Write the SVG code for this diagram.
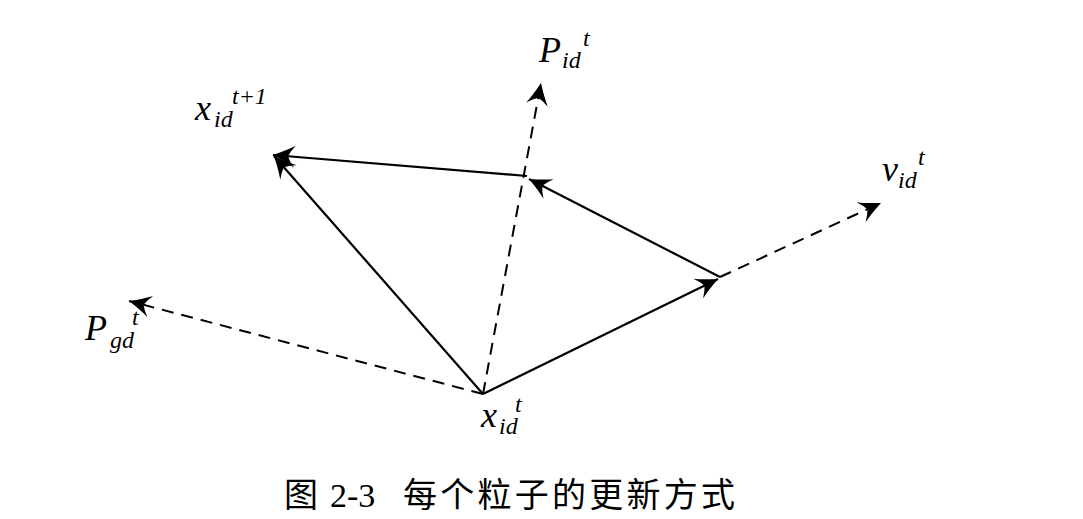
<svg xmlns="http://www.w3.org/2000/svg" width="1083" height="519" viewBox="0 0 1083 519">
<style>
.s{stroke:#000;stroke-width:2.2;fill:none}
.d{stroke:#000;stroke-width:2;fill:none;stroke-dasharray:12 8}
.big{font-size:36px}
.sm{font-size:24px}
</style>
<defs>
<marker id="ah" markerUnits="userSpaceOnUse" markerWidth="30" markerHeight="30" refX="22" refY="11" orient="auto" viewBox="0 0 30 22">
<path d="M22,11 Q8,5 0,0 Q5,6 7,11 Q5,16 0,22 Q8,17 22,11 Z" fill="#000"/>
</marker>
</defs>
<rect width="1083" height="519" fill="#fff"/>
<g id="connectors">
<line class="d" x1="483" y1="394" x2="541" y2="83" marker-end="url(#ah)"/>
<line class="d" x1="483" y1="394" x2="129" y2="301" marker-end="url(#ah)"/>
<line class="d" x1="720" y1="277" x2="881" y2="203" marker-end="url(#ah)"/>
<line class="s" x1="483" y1="394" x2="718" y2="279" marker-end="url(#ah)"/>
<line class="s" x1="720" y1="277" x2="529" y2="179" marker-end="url(#ah)"/>
<line class="s" x1="527" y1="176" x2="273" y2="155" marker-end="url(#ah)"/>
<line class="s" x1="483" y1="394" x2="274" y2="156" marker-end="url(#ah)"/>
</g>
<g font-family="Liberation Serif, DejaVu Serif, serif" font-style="italic" fill="#000">
<g id="x_next">
<text class="big" x="195" y="120">x</text>
<text class="sm" x="214" y="127">id</text>
<text class="sm" x="232" y="104">t+1</text>
</g>
<g id="P_id">
<text class="big" x="539" y="62">P</text>
<text class="sm" x="562" y="68">id</text>
<text class="sm" x="583" y="46">t</text>
</g>
<g id="v_id">
<text class="big" x="882" y="181">v</text>
<text class="sm" x="898" y="188">id</text>
<text class="sm" x="918" y="165">t</text>
</g>
<g id="P_gd">
<text class="big" x="85" y="340">P</text>
<text class="sm" x="110" y="348">gd</text>
<text class="sm" x="132" y="325">t</text>
</g>
<g id="x_id">
<text class="big" x="481" y="427">x</text>
<text class="sm" x="499" y="434">id</text>
<text class="sm" x="515" y="412">t</text>
</g>
</g>
<g id="caption" font-family="Liberation Serif, Noto Sans CJK SC, serif" font-size="34" fill="#000">
<text x="284" y="507">图</text>
<text x="330" y="507">2-3</text>
<text x="403" y="507" textLength="332" lengthAdjust="spacing">每个粒子的更新方式</text>
</g>
</svg>
